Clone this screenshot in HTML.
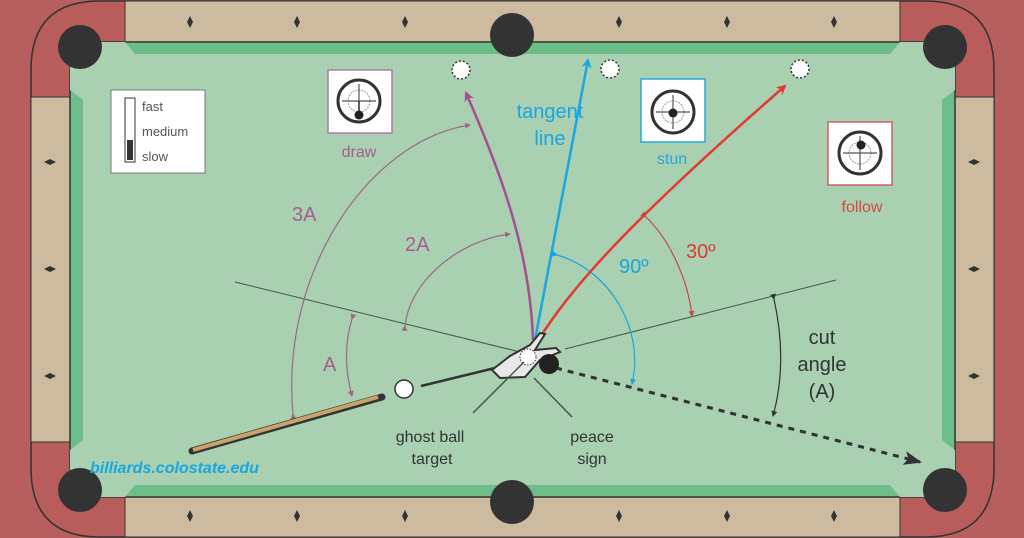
<!DOCTYPE html>
<html><head><meta charset="utf-8"><style>
html,body{margin:0;padding:0;background:#b75f5e;width:1024px;height:538px;overflow:hidden;}
svg{display:block;font-family:"Liberation Sans",Arial,sans-serif;}
</style></head><body>
<svg width="1024" height="538" viewBox="0 0 1024 538" xmlns="http://www.w3.org/2000/svg">
<defs>
<marker id="ap" markerWidth="10" markerHeight="10" refX="8" refY="5" orient="auto" markerUnits="userSpaceOnUse"><path d="M0,0 L10,5 L0,10 L3,5z" fill="#a4508f"/></marker>
<marker id="ab" markerWidth="10" markerHeight="10" refX="8" refY="5" orient="auto" markerUnits="userSpaceOnUse"><path d="M0,0 L10,5 L0,10 L3,5z" fill="#1aa6de"/></marker>
<marker id="ar" markerWidth="10" markerHeight="10" refX="8" refY="5" orient="auto" markerUnits="userSpaceOnUse"><path d="M0,0 L10,5 L0,10 L3,5z" fill="#e03a35"/></marker>
<marker id="ak" markerWidth="18" markerHeight="14" refX="16" refY="7" orient="auto" markerUnits="userSpaceOnUse"><path d="M0,0 L18,7 L0,14 L4,7z" fill="#333"/></marker>
<marker id="sp" markerWidth="6" markerHeight="6" refX="5" refY="3" orient="auto" markerUnits="userSpaceOnUse"><path d="M0,0 L6,3 L0,6z" fill="#9b6a8a"/></marker>
<marker id="sb" markerWidth="6" markerHeight="6" refX="5" refY="3" orient="auto" markerUnits="userSpaceOnUse"><path d="M0,0 L6,3 L0,6z" fill="#1aa6de"/></marker>
<marker id="sr" markerWidth="6" markerHeight="6" refX="5" refY="3" orient="auto" markerUnits="userSpaceOnUse"><path d="M0,0 L6,3 L0,6z" fill="#c54a45"/></marker>
<marker id="sk" markerWidth="6" markerHeight="6" refX="5" refY="3" orient="auto" markerUnits="userSpaceOnUse"><path d="M0,0 L6,3 L0,6z" fill="#333"/></marker>
<g id="tgt"><circle cx="0" cy="0" r="21" fill="none" stroke="#333" stroke-width="3"/><circle cx="0" cy="0" r="11" fill="none" stroke="#999" stroke-width="1" stroke-dasharray="2 1"/><line x1="-17" y1="0" x2="17" y2="0" stroke="#555" stroke-width="1.2"/><line x1="0" y1="-17" x2="0" y2="17" stroke="#555" stroke-width="1.2"/></g>
</defs>
<rect x="0" y="0" width="1024" height="538" fill="#b75f5e"/>
<path d="M100,1 L925,1 Q994,1 994,70 L994,468 Q994,537 925,537 L100,537 Q31,537 31,468 L31,70 Q31,1 100,1 Z" fill="#b85d5c" stroke="#333" stroke-width="1.5"/>
<rect x="125" y="1" width="775" height="41" fill="#cdbb9f" stroke="#333" stroke-width="1"/>
<rect x="125" y="497" width="775" height="40" fill="#cdbb9f" stroke="#333" stroke-width="1"/>
<rect x="31" y="97" width="39" height="345" fill="#cdbb9f" stroke="#333" stroke-width="1"/>
<rect x="955" y="97" width="39" height="345" fill="#cdbb9f" stroke="#333" stroke-width="1"/>
<rect x="70" y="42" width="885" height="455" fill="#6dbd8b" stroke="#333" stroke-width="1.5"/>
<rect x="83" y="54" width="859" height="431" fill="#a8d0b1"/>
<path d="M70,42 L125,42 L135,54 L83,54 L83,100 L70,90z M955,42 L900,42 L890,54 L942,54 L942,100 L955,90z M70,497 L125,497 L135,485 L83,485 L83,440 L70,450z M955,497 L900,497 L890,485 L942,485 L942,440 L955,450z" fill="#a8d0b1"/>
<g fill="#333">
<circle cx="80" cy="47" r="22"/><circle cx="512" cy="35" r="22"/><circle cx="945" cy="47" r="22"/>
<circle cx="80" cy="490" r="22"/><circle cx="512" cy="502" r="22"/><circle cx="945" cy="490" r="22"/>
</g>
<g fill="#333">
<path d="M190,16 l3,6 l-3,6 l-3,-6z"/><path d="M297,16 l3,6 l-3,6 l-3,-6z"/><path d="M405,16 l3,6 l-3,6 l-3,-6z"/>
<path d="M619,16 l3,6 l-3,6 l-3,-6z"/><path d="M727,16 l3,6 l-3,6 l-3,-6z"/><path d="M834,16 l3,6 l-3,6 l-3,-6z"/>
<path d="M190,510 l3,6 l-3,6 l-3,-6z"/><path d="M297,510 l3,6 l-3,6 l-3,-6z"/><path d="M405,510 l3,6 l-3,6 l-3,-6z"/>
<path d="M619,510 l3,6 l-3,6 l-3,-6z"/><path d="M727,510 l3,6 l-3,6 l-3,-6z"/><path d="M834,510 l3,6 l-3,6 l-3,-6z"/>
<path d="M44,162 l6,-3 l6,3 l-6,3z"/><path d="M44,269 l6,-3 l6,3 l-6,3z"/><path d="M44,376 l6,-3 l6,3 l-6,3z"/>
<path d="M968,162 l6,-3 l6,3 l-6,3z"/><path d="M968,269 l6,-3 l6,3 l-6,3z"/><path d="M968,376 l6,-3 l6,3 l-6,3z"/>
</g>
<rect x="111" y="90" width="94" height="83" fill="#fff" stroke="#777"/>
<rect x="125" y="98" width="10" height="64" fill="#fff" stroke="#333"/>
<rect x="127" y="140" width="6" height="20" fill="#333"/>
<text x="142" y="111" font-size="13" fill="#555">fast</text>
<text x="142" y="136" font-size="13" fill="#555">medium</text>
<text x="142" y="161" font-size="13" fill="#555">slow</text>
<rect x="328" y="70" width="64" height="63" fill="#fff" stroke="#b07da0" stroke-width="1.5"/>
<use href="#tgt" x="359" y="101"/><line x1="359" y1="101" x2="359" y2="115" stroke="#333" stroke-width="1.5"/><circle cx="359" cy="115" r="4.5" fill="#222"/>
<text x="359" y="157" font-size="16" fill="#a85d8f" text-anchor="middle">draw</text>
<rect x="641" y="79" width="64" height="63" fill="#fff" stroke="#29a9dc" stroke-width="1.5"/>
<use href="#tgt" x="673" y="112"/><circle cx="673" cy="113" r="4.5" fill="#222"/>
<text x="672" y="164" font-size="16" fill="#2ba8d6" text-anchor="middle">stun</text>
<rect x="828" y="122" width="64" height="63" fill="#fff" stroke="#d06060" stroke-width="1.5"/>
<use href="#tgt" x="860" y="153"/><circle cx="861" cy="145" r="4.5" fill="#222"/>
<text x="862" y="212" font-size="16" fill="#d34a45" text-anchor="middle">follow</text>
<g fill="#fff" stroke="#333" stroke-width="1.5" stroke-dasharray="2 2">
<circle cx="461" cy="70" r="9"/><circle cx="610" cy="69" r="9"/><circle cx="800" cy="69" r="9"/>
</g>
<line x1="235" y1="282" x2="520" y2="352" stroke="#3d5a48" stroke-width="1"/>
<line x1="565" y1="349" x2="836" y2="280" stroke="#3d5a48" stroke-width="1"/>
<path d="M293,414 C280,270 370,140 470,125" fill="none" stroke="#9b6a8a" stroke-width="1.2" marker-start="url(#sp)" marker-end="url(#sp)"/>
<path d="M405,326 C410,280 460,240 510,234" fill="none" stroke="#9b6a8a" stroke-width="1.2" marker-start="url(#sp)" marker-end="url(#sp)"/>
<path d="M352,319 C344,345 345,370 352,396" fill="none" stroke="#9b6a8a" stroke-width="1.2" marker-start="url(#sp)" marker-end="url(#sp)"/>
<path d="M557,255 C610,270 645,330 632,384" fill="none" stroke="#1aa6de" stroke-width="1.2" marker-start="url(#sb)" marker-end="url(#sb)"/>
<path d="M646,217 C670,240 688,280 692,316" fill="none" stroke="#c54a45" stroke-width="1.2" marker-start="url(#sr)" marker-end="url(#sr)"/>
<path d="M774,299 C783,340 783,380 773,416" fill="none" stroke="#333" stroke-width="1.2" marker-start="url(#sk)" marker-end="url(#sk)"/>
<path d="M533,340 C530,250 500,170 466,93" fill="none" stroke="#a4508f" stroke-width="2.5" marker-end="url(#ap)"/>
<path d="M535,340 L588,60" fill="none" stroke="#1aa6de" stroke-width="2.5" marker-end="url(#ab)"/>
<path d="M537,342 C570,290 620,230 785,86" fill="none" stroke="#e03a35" stroke-width="2.5" marker-end="url(#ar)"/>
<line x1="556" y1="368" x2="920" y2="462" stroke="#333" stroke-width="3" stroke-dasharray="6 6" marker-end="url(#ak)"/>
<line x1="192" y1="451" x2="382" y2="397" stroke="#333" stroke-width="7" stroke-linecap="round"/>
<line x1="193" y1="450" x2="378" y2="397" stroke="#c9a46a" stroke-width="4"/>
<circle cx="404" cy="389" r="9" fill="#fff" stroke="#333" stroke-width="1.5"/>
<line x1="421" y1="386" x2="495" y2="368" stroke="#333" stroke-width="2.5"/>
<path d="M492,370 L510,356 L530,345 L540,333 L545,334 L535,350 L556,348 L560,352 L540,360 L525,377 L500,378z" fill="#e8e8e8" stroke="#333" stroke-width="2"/>
<circle cx="528" cy="357" r="8" fill="#fff" stroke="#333" stroke-width="1" stroke-dasharray="1.5 1.5"/>
<circle cx="549" cy="364" r="10" fill="#222"/>
<line x1="473" y1="413" x2="524" y2="362" stroke="#3d5a48" stroke-width="1.5"/>
<line x1="572" y1="417" x2="534" y2="378" stroke="#3d5a48" stroke-width="1.5"/>
<g font-size="20">
<text x="292" y="221" fill="#a85d8f">3A</text>
<text x="405" y="251" fill="#a85d8f">2A</text>
<text x="323" y="371" fill="#a85d8f">A</text>
<text x="550" y="118" fill="#1aa6de" text-anchor="middle">tangent</text>
<text x="550" y="145" fill="#1aa6de" text-anchor="middle">line</text>
<text x="619" y="273" fill="#1aa6de">90º</text>
<text x="686" y="258" fill="#e03a35">30º</text>
<text x="822" y="344" fill="#333" text-anchor="middle">cut</text>
<text x="822" y="371" fill="#333" text-anchor="middle">angle</text>
<text x="822" y="398" fill="#333" text-anchor="middle">(A)</text>
</g>
<g font-size="16" fill="#333" text-anchor="middle">
<text x="430" y="442">ghost ball</text><text x="432" y="464">target</text>
<text x="592" y="442">peace</text><text x="592" y="464">sign</text>
</g>
<text x="90" y="473" font-size="16" font-weight="bold" font-style="italic" fill="#1aa6de">billiards.colostate.edu</text>
</svg>
</body></html>
